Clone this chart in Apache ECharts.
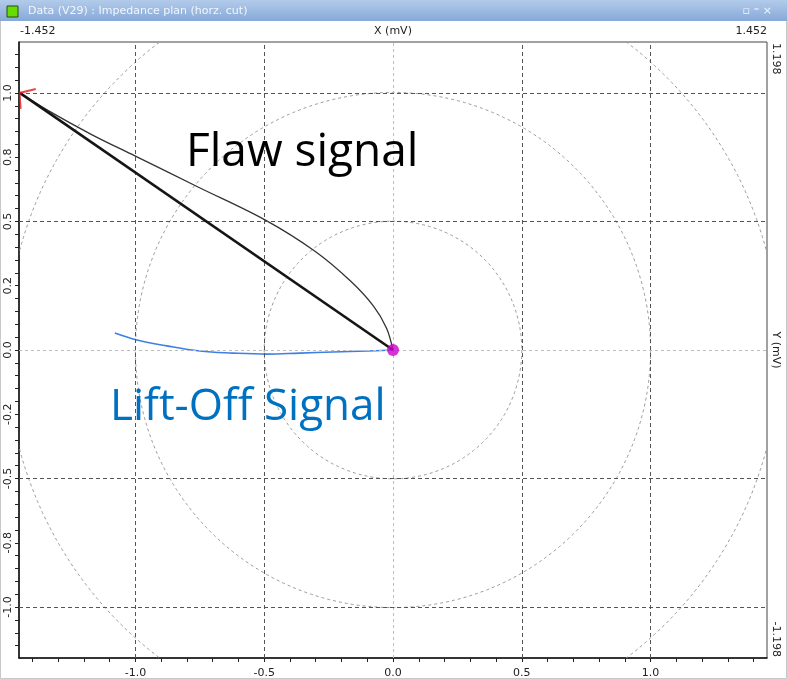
<!DOCTYPE html>
<html><head><meta charset="utf-8">
<script src="https://cdn.jsdelivr.net/npm/echarts@6/dist/echarts.min.js"></script>
<style>html,body{margin:0;padding:0;background:#fff}#c{width:787px;height:679px}</style>
</head><body><div id="c"></div>
<script>
// ---- data ----
const xRange = [-1.452, 1.452];
const yRange = [-1.198, 1.198];
const xLabelValues = [-1.0, -0.5, 0.0, 0.5, 1.0];
const xTickValues = [-1.4,-1.3,-1.2,-1.1,-1.0,-0.9,-0.8,-0.7,-0.6,-0.5,-0.4,-0.3,-0.2,-0.1,0,0.1,0.2,0.3,0.4,0.5,0.6,0.7,0.8,0.9,1.0,1.1,1.2,1.3,1.4];
const yLabelValues = [-1.0, -0.75, -0.5, -0.25, 0, 0.25, 0.5, 0.75, 1.0];
const yLabelTexts = ['-1.0', '-0.8', '-0.5', '-0.2', '0.0', '0.2', '0.5', '0.8', '1.0'];
const yTickValues = [-1.15,-1.1,-1.05,-1.0,-0.95,-0.9,-0.85,-0.8,-0.75,-0.7,-0.65,-0.6,-0.55,-0.5,-0.45,-0.4,-0.35,-0.3,-0.25,-0.2,-0.15,-0.1,-0.05,0,0.05,0.1,0.15,0.2,0.25,0.3,0.35,0.4,0.45,0.5,0.55,0.6,0.65,0.7,0.75,0.8,0.85,0.9,0.95,1.0,1.05,1.1,1.15];
const gridValues = [-1.0, -0.5, 0, 0.5, 1.0];
const circleRadii = [0.5, 1.0, 1.5];
const flawStraight = [[-1.449, 1.0], [0, 0]];
const flawCurve = [[-1.449, 1.0], [-1.34, 0.932], [-1.17, 0.838], [-1.002, 0.755], [-0.757, 0.634], [-0.497, 0.506], [-0.303, 0.384], [-0.167, 0.27], [-0.075, 0.17], [-0.025, 0.085], [0, 0]];
const liftOff = [[-1.08, 0.066], [-0.994, 0.039], [-0.878, 0.016], [-0.75, -0.004], [-0.621, -0.012], [-0.489, -0.016], [-0.361, -0.012], [-0.233, -0.008], [-0.101, -0.004], [0, 0]];
const probeOrigin = [[0, 0]];
const flawStart = [[-1.449, 1.0]];

// ---- chart ----
const chart = echarts.init(document.getElementById('c'));
const majorGrid = { color: '#555', width: 1, type: [4, 3] };
const zeroGrid = { color: '#bdbdbd', width: 1, type: [3, 3] };
const axisFont = { fontFamily: 'DejaVu Sans', fontSize: 11, color: '#222' };

const option = {
  animation: false,
  backgroundColor: '#fff',
  grid: { left: 19, right: 20, top: 42, bottom: 21, show: true, borderColor: '#444', borderWidth: 1, backgroundColor: '#fff' },
  xAxis: {
    type: 'value', min: xRange[0], max: xRange[1],
    axisLine: { show: true, onZero: false, lineStyle: { color: '#111', width: 1.5 } },
    axisTick: { show: true, length: 4, customValues: xTickValues, lineStyle: { color: '#222' } },
    axisLabel: Object.assign({ customValues: xLabelValues, margin: 10, formatter: v => (Math.abs(v) < 1e-9 ? 0 : v).toFixed(1) }, axisFont),
    splitLine: { show: false }
  },
  yAxis: {
    type: 'value', min: yRange[0], max: yRange[1],
    axisLine: { show: true, onZero: false, lineStyle: { color: '#111', width: 1.5 } },
    axisTick: { show: true, length: 4, customValues: yTickValues, lineStyle: { color: '#222' } },
    axisLabel: Object.assign({ customValues: yLabelValues, rotate: 90, margin: 5,
      formatter: v => { const i = yLabelValues.findIndex(t => Math.abs(t - v) < 1e-9); return i >= 0 ? yLabelTexts[i] : ''; } }, axisFont),
    splitLine: { show: false }
  },
  series: [
    {
      type: 'line', data: probeOrigin, symbol: 'none', lineStyle: { width: 0 }, z: 1, silent: true,
      markLine: {
        silent: true, symbol: ['none', 'none'], label: { show: false }, animation: false,
        data: gridValues.map(v => ({ xAxis: v, lineStyle: v === 0 ? zeroGrid : majorGrid }))
          .concat(gridValues.map(v => ({ yAxis: v, lineStyle: v === 0 ? zeroGrid : majorGrid })))
      }
    },
    {
      type: 'custom', coordinateSystem: 'cartesian2d', silent: true, z: 2,
      data: circleRadii.map(r => [0, 0, r]), encode: { x: 0, y: 1 },
      renderItem: (params, api) => {
        const c = api.coord([api.value(0), api.value(1)]);
        const r = api.size([api.value(2), 0])[0];
        const cs = params.coordSys;
        return {
          type: 'circle', shape: { cx: c[0], cy: c[1], r: r },
          style: { fill: 'none', stroke: '#9a9a9a', lineWidth: 1, lineDash: [3, 3] },
          clipPath: { type: 'rect', shape: { x: cs.x, y: cs.y, width: cs.width, height: cs.height } }
        };
      }
    },
    { type: 'line', data: liftOff, smooth: 0.4, symbol: 'none', z: 3, lineStyle: { color: '#3d7fe6', width: 1.6 } },
    { type: 'line', data: flawCurve, smooth: 0.35, symbol: 'none', z: 4, lineStyle: { color: '#333', width: 1.3 } },
    { type: 'line', data: flawStraight, symbol: 'none', z: 5, lineStyle: { color: '#151515', width: 2.6 } },
    { type: 'scatter', data: probeOrigin, symbolSize: 12, z: 6, itemStyle: { color: '#cc00cc' } },
    { type: 'scatter', data: flawStart, z: 7, symbol: 'path://M16,0 L0,4 L1,20', symbolSize: [16, 20], symbolOffset: [8, 6],
      itemStyle: { color: 'none', borderColor: '#e8151b', borderWidth: 1.8 } }
  ],
  graphic: [
    { type: 'rect', shape: { x: 0.5, y: 0.5, width: 786, height: 678 }, style: { fill: 'none', stroke: '#c8c8c8', lineWidth: 1 }, silent: true },
    { type: 'rect', shape: { x: 0, y: 0, width: 787, height: 21 }, silent: true,
      style: { fill: new echarts.graphic.LinearGradient(0, 0, 0, 1, [{ offset: 0, color: '#b3cbea' }, { offset: 1, color: '#86a9d8' }]) } },
    { type: 'rect', shape: { x: 7, y: 6, width: 11, height: 11 }, style: { fill: '#66dd00', stroke: '#2a4a10', lineWidth: 1 }, silent: true },
    { type: 'text', x: 28, y: 11, style: { text: 'Data (V29) : Impedance plan (horz. cut)', font: '11px "DejaVu Sans"', fill: '#f2f6fc', verticalAlign: 'middle' }, silent: true },
    { type: 'text', x: 772, y: 11, style: { text: '▫ ⁼ ×', font: '11px "DejaVu Sans"', fill: '#f2f6fc', verticalAlign: 'middle', align: 'right' }, silent: true },
    { type: 'text', x: 20, y: 31, style: { text: String(xRange[0]), font: '11px "DejaVu Sans"', fill: '#222', verticalAlign: 'middle', align: 'left' }, silent: true },
    { type: 'text', x: 393, y: 31, style: { text: 'X (mV)', font: '11px "DejaVu Sans"', fill: '#222', verticalAlign: 'middle', align: 'center' }, silent: true },
    { type: 'text', x: 767, y: 31, style: { text: String(xRange[1]), font: '11px "DejaVu Sans"', fill: '#222', verticalAlign: 'middle', align: 'right' }, silent: true },
    { type: 'text', x: 776, y: 43, rotation: -Math.PI / 2, style: { text: String(yRange[1]), font: '11px "DejaVu Sans"', fill: '#222', verticalAlign: 'middle', align: 'left' }, silent: true },
    { type: 'text', x: 776, y: 350, rotation: -Math.PI / 2, style: { text: 'Y (mV)', font: '11px "DejaVu Sans"', fill: '#222', verticalAlign: 'middle', align: 'center' }, silent: true },
    { type: 'text', x: 776, y: 657, rotation: -Math.PI / 2, style: { text: String(yRange[0]), font: '11px "DejaVu Sans"', fill: '#222', verticalAlign: 'middle', align: 'right' }, silent: true },
    { type: 'text', x: 186, y: 153, z: 100, style: { text: 'Flaw signal', font: '46px "Open Sans"', fill: '#000', verticalAlign: 'middle', align: 'left' }, silent: true },
    { type: 'text', x: 110, y: 407, z: 100, style: { text: 'Lift-Off Signal', font: '44px "Open Sans"', fill: '#0070c0', verticalAlign: 'middle', align: 'left' }, silent: true }
  ]
};
chart.setOption(option);
</script></body></html>
